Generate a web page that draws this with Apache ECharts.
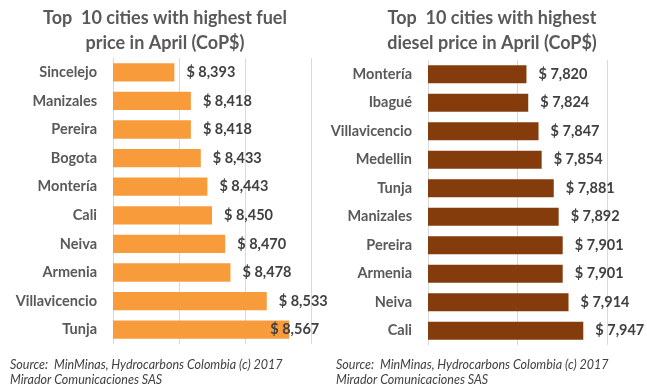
<!DOCTYPE html>
<html>
<head>
<meta charset="utf-8">
<script src="https://cdn.jsdelivr.net/npm/echarts@6/dist/echarts.min.js"></script>
<style>
html,body{margin:0;padding:0;background:#fff;}
#chart{width:647px;height:386px;}
</style>
</head>
<body>
<div id="chart"></div>
<script>
const fuelCities = ['Sincelejo','Manizales','Pereira','Bogota','Montería','Cali','Neiva','Armenia','Villavicencio','Tunja'];
const fuelPrices = [8393, 8418, 8418, 8433, 8443, 8450, 8470, 8478, 8533, 8567];
const dieselCities = ['Montería','Ibagué','Villavicencio','Medellin','Tunja','Manizales','Pereira','Armenia','Neiva','Cali'];
const dieselPrices = [7820, 7824, 7847, 7854, 7881, 7892, 7901, 7901, 7914, 7947];
const fuelTitle = 'Top  10 cities with highest fuel\nprice in April (CoP$)';
const dieselTitle = 'Top  10 cities with highest\ndiesel price in April (CoP$)';
const sourceText = 'Source:  MinMinas, Hydrocarbons Colombia (c) 2017\nMirador Comunicaciones SAS';

const FONT = 'Lato, "Open Sans", sans-serif';
const fmt = v => '$ ' + v.toLocaleString('en-US');

const chart = echarts.init(document.getElementById('chart'), null, {renderer:'canvas'});

function valueLabel() {
  return {show:true, position:'right', distance:12, formatter:p=>fmt(p.value),
    fontFamily:FONT, fontWeight:'bold', fontSize:14.5, color:'#404040'};
}

const fuelData = fuelPrices.map((v,i)=> i===fuelPrices.length-1
  ? {value:v, label:{position:'insideRight', distance:0, offset:[30,0]}}
  : v);

chart.setOption({
  backgroundColor:'#fff',
  animation:false,
  title:[
    {text:fuelTitle, left:160, top:1, textAlign:'center',
     textStyle:{fontFamily:FONT, fontWeight:'bold', fontSize:18, color:'#595959', lineHeight:25}},
    {text:dieselTitle, left:487, top:1, textAlign:'center',
     textStyle:{fontFamily:FONT, fontWeight:'bold', fontSize:18, color:'#595959', lineHeight:25}}
  ],
  grid:[
    {left:113, top:58, width:198, height:286},
    {left:428, top:60, width:179, height:285}
  ],
  xAxis:[
    {gridIndex:0, type:'value', min:8300, max:8600, interval:100,
     axisLabel:{show:false}, axisTick:{show:false}, axisLine:{show:false},
     splitLine:{show:true, lineStyle:{color:'#d9d9d9', width:1}}},
    {gridIndex:1, type:'value', min:7600, max:8000, interval:200,
     axisLabel:{show:false}, axisTick:{show:false}, axisLine:{show:false},
     splitLine:{show:true, lineStyle:{color:'#d9d9d9', width:1}}}
  ],
  yAxis:[
    {gridIndex:0, type:'category', data:fuelCities, inverse:true,
     axisLine:{show:false}, axisTick:{show:false},
     axisLabel:{margin:16, fontFamily:FONT, fontWeight:'bold', fontSize:14.5, color:'#595959'}},
    {gridIndex:1, type:'category', data:dieselCities, inverse:true,
     axisLine:{show:false}, axisTick:{show:false},
     axisLabel:{margin:16, fontFamily:FONT, fontWeight:'bold', fontSize:14.5, color:'#595959'}}
  ],
  series:[
    {type:'bar', xAxisIndex:0, yAxisIndex:0, data:fuelData, barCategoryGap:'36%',
     itemStyle:{color:'#F89B3A'}, label:valueLabel()},
    {type:'bar', xAxisIndex:1, yAxisIndex:1, data:dieselPrices, barCategoryGap:'36%',
     itemStyle:{color:'#843C0C'}, label:valueLabel()}
  ],
  graphic:[
    {type:'text', left:10, top:357, style:{text:sourceText, font:'italic 12.5px '+FONT, fill:'#404040', lineHeight:15}},
    {type:'text', left:336, top:357, style:{text:sourceText, font:'italic 12.5px '+FONT, fill:'#404040', lineHeight:15}}
  ]
});
</script>
</body>
</html>
